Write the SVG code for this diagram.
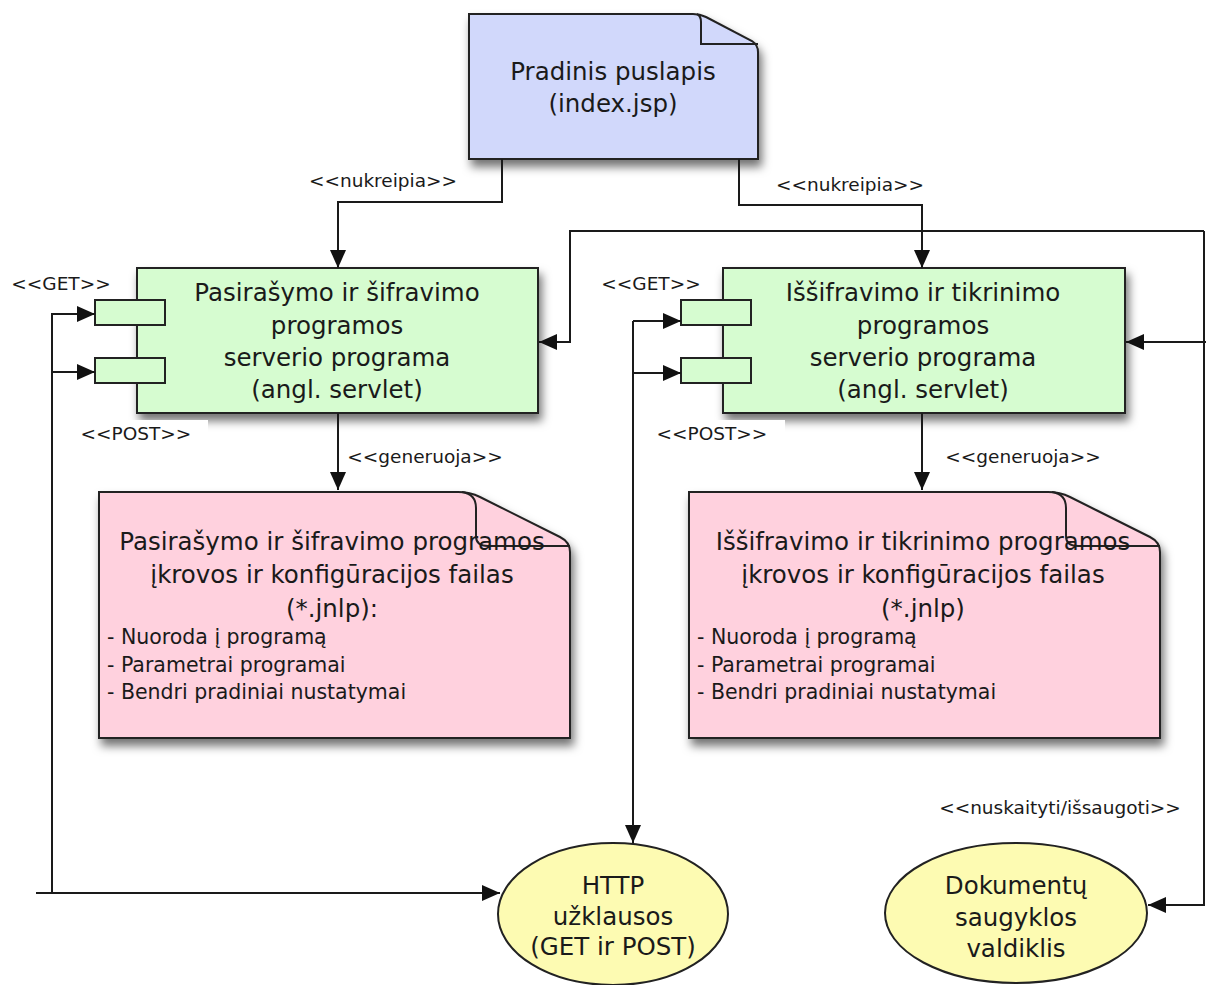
<svg xmlns="http://www.w3.org/2000/svg" width="1209" height="985" viewBox="0 0 1209 985">
  <defs>
    <filter id="shadow" x="-10%" y="-10%" width="125%" height="140%">
      <feDropShadow dx="3" dy="7" stdDeviation="5" flood-color="#000" flood-opacity="0.55"/>
    </filter>
    <marker id="arrow" viewBox="0 0 18 16" refX="18" refY="8" markerWidth="18" markerHeight="16" markerUnits="userSpaceOnUse" orient="auto">
      <path d="M0,0 L18,8 L0,16 z" fill="#111"/>
    </marker>
  </defs>
  <style>
    .page { fill: #d1d8fb; stroke: #222; stroke-width: 2; }
    .servlet { fill: #d6fcd0; stroke: #222; stroke-width: 2; }
    .port { fill: #d6fcd0; stroke: #222; stroke-width: 2; }
    .file { fill: #ffd1de; stroke: #222; stroke-width: 2; }
    .store { fill: #fdfbb2; stroke: #222; stroke-width: 2; }
    .fold { fill: none; stroke: #222; stroke-width: 2; }
    .big { font-family: "DejaVu Sans", "Liberation Sans", sans-serif; font-size: 24.5px; fill: #1a1a1a; text-anchor: middle; }
    .item { font-family: "DejaVu Sans", "Liberation Sans", sans-serif; font-size: 20.5px; fill: #1a1a1a; }
    .lbl { font-family: "DejaVu Sans", "Liberation Sans", sans-serif; font-size: 18.5px; fill: #1a1a1a; text-anchor: middle; }
    .conn { fill: none; stroke: #1a1a1a; stroke-width: 2; }
    .bg { fill: #fff; }
  </style>

  <!-- start page -->
  <g id="index-page">
    <path class="page" filter="url(#shadow)" d="M469,14 H693 Q700,14 706,17 L752,41 Q758,45 758,52 V159 H469 Z"/>
    <path class="fold" d="M697,14 Q701,16 701,22 V44 H758"/>
    <text class="big" x="613" y="80" font-size="25.5">Pradinis puslapis</text>
    <text class="big" x="613" y="112" font-size="25.5">(index.jsp)</text>
  </g>

  <!-- signing / encryption servlet -->
  <g id="sign-servlet">
    <rect class="servlet" filter="url(#shadow)" x="137" y="268" width="401" height="145"/>
    <rect class="port" x="95" y="300" width="70" height="25"/>
    <rect class="port" x="95" y="358" width="70" height="25"/>
    <text class="big" x="337" y="301">Pasirašymo ir šifravimo</text>
    <text class="big" x="337" y="334">programos</text>
    <text class="big" x="337" y="366">serverio programa</text>
    <text class="big" x="337" y="398">(angl. servlet)</text>
  </g>

  <!-- decryption / verification servlet -->
  <g id="verify-servlet">
    <rect class="servlet" filter="url(#shadow)" x="723" y="268" width="402" height="145"/>
    <rect class="port" x="681" y="300" width="70" height="25"/>
    <rect class="port" x="681" y="358" width="70" height="25"/>
    <text class="big" x="923" y="301">Iššifravimo ir tikrinimo</text>
    <text class="big" x="923" y="334">programos</text>
    <text class="big" x="923" y="366">serverio programa</text>
    <text class="big" x="923" y="398">(angl. servlet)</text>
  </g>

  <!-- signing JNLP file -->
  <g id="sign-jnlp">
    <path class="file" filter="url(#shadow)" d="M99,492 H458 Q470,492 480,497 L560,537 Q570,542 570,552 V738 H99 Z"/>
    <path class="fold" d="M462,492 Q476,494 476,508 V536 Q476,546 488,546 H570"/>
    <text class="big" x="332" y="550">Pasirašymo ir šifravimo programos</text>
    <text class="big" x="332" y="583">įkrovos ir konfigūracijos failas</text>
    <text class="big" x="332" y="617">(*.jnlp):</text>
    <text class="item" x="107" y="644">- Nuoroda į programą</text>
    <text class="item" x="107" y="672">- Parametrai programai</text>
    <text class="item" x="107" y="699">- Bendri pradiniai nustatymai</text>
  </g>

  <!-- verification JNLP file -->
  <g id="verify-jnlp">
    <path class="file" filter="url(#shadow)" d="M689,492 H1048 Q1060,492 1070,497 L1150,537 Q1160,542 1160,552 V738 H689 Z"/>
    <path class="fold" d="M1052,492 Q1066,494 1066,508 V536 Q1066,546 1078,546 H1160"/>
    <text class="big" x="923" y="550">Iššifravimo ir tikrinimo programos</text>
    <text class="big" x="923" y="583">įkrovos ir konfigūracijos failas</text>
    <text class="big" x="923" y="617">(*.jnlp)</text>
    <text class="item" x="697" y="644">- Nuoroda į programą</text>
    <text class="item" x="697" y="672">- Parametrai programai</text>
    <text class="item" x="697" y="699">- Bendri pradiniai nustatymai</text>
  </g>

  <!-- HTTP requests -->
  <g id="http-requests">
    <ellipse class="store" cx="613" cy="914" rx="115" ry="71"/>
    <text class="big" x="613" y="894">HTTP</text>
    <text class="big" x="613" y="925">užklausos</text>
    <text class="big" x="613" y="955">(GET ir POST)</text>
  </g>

  <!-- document repository controller -->
  <g id="doc-store">
    <ellipse class="store" cx="1016" cy="913" rx="131" ry="70"/>
    <text class="big" x="1016" y="894">Dokumentų</text>
    <text class="big" x="1016" y="926">saugyklos</text>
    <text class="big" x="1016" y="957">valdiklis</text>
  </g>

  <!-- connectors -->
  <g id="connectors">
    <path class="conn" d="M502,159 V202 H338 V268" marker-end="url(#arrow)"/>
    <path class="conn" d="M739,159 V205 H922 V268" marker-end="url(#arrow)"/>
    <path class="conn" d="M338,413 V490" marker-end="url(#arrow)"/>
    <path class="conn" d="M922,413 V490" marker-end="url(#arrow)"/>
    <!-- left ports fed from HTTP requests -->
    <path class="conn" d="M52,893 V314 H95" marker-end="url(#arrow)"/>
    <path class="conn" d="M52,372 H95" marker-end="url(#arrow)"/>
    <path class="conn" d="M36,893 H500" marker-end="url(#arrow)"/>
    <path class="conn" d="M36,893 H66" stroke-width="3"/>
    <!-- right ports to HTTP requests -->
    <path class="conn" d="M633,321 H681" marker-end="url(#arrow)"/>
    <path class="conn" d="M633,373 H681" marker-end="url(#arrow)"/>
    <path class="conn" d="M633,321 V843" marker-end="url(#arrow)"/>
    <path class="conn" d="M633,373 V826" stroke-width="3.5"/>
    <!-- repository links -->
    <path class="conn" d="M1204,231 H570 V342 H539" marker-end="url(#arrow)"/>
    <path class="conn" d="M1206,342 H1126" marker-end="url(#arrow)"/>
    <path class="conn" d="M1204,231 V905 H1148" marker-end="url(#arrow)"/>
  </g>

  <!-- connector labels -->
  <g id="labels">
    <rect class="bg" x="304" y="169" width="158" height="24"/>
    <text class="lbl" x="383" y="187">&lt;&lt;nukreipia&gt;&gt;</text>
    <rect class="bg" x="770" y="174" width="160" height="24"/>
    <text class="lbl" x="850" y="191">&lt;&lt;nukreipia&gt;&gt;</text>
    <text class="lbl" x="61" y="290">&lt;&lt;GET&gt;&gt;</text>
    <text class="lbl" x="651" y="290">&lt;&lt;GET&gt;&gt;</text>
    <rect class="bg" x="72" y="420" width="136" height="28"/>
    <text class="lbl" x="136" y="440">&lt;&lt;POST&gt;&gt;</text>
    <rect class="bg" x="646" y="420" width="139" height="28"/>
    <text class="lbl" x="712" y="440">&lt;&lt;POST&gt;&gt;</text>
    <text class="lbl" x="425" y="463">&lt;&lt;generuoja&gt;&gt;</text>
    <text class="lbl" x="1023" y="463">&lt;&lt;generuoja&gt;&gt;</text>
    <text class="lbl" x="1060" y="814">&lt;&lt;nuskaityti/išsaugoti&gt;&gt;</text>
  </g>
</svg>
